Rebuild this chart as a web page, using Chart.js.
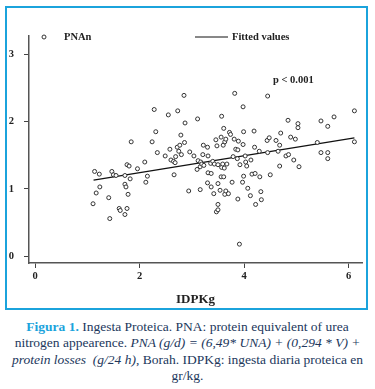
<!DOCTYPE html>
<html>
<head>
<meta charset="utf-8">
<script src="https://cdn.jsdelivr.net/npm/chart.js@4.4.0/dist/chart.umd.min.js"></script>
<style>
  html, body { margin: 0; padding: 0; background: #fff; }
  body { width: 375px; height: 389px; position: relative; overflow: hidden; }
  #frame {
    position: absolute; left: 5px; top: 6px; width: 363px; height: 304px;
    border: 2px solid #1ba3dc; box-sizing: border-box; background: #fff;
  }
  #chart { position: absolute; left: 0; top: 0; }
  #caption {
    position: absolute; left: 0; top: 319px; width: 375px; text-align: center;
    font-family: "Liberation Serif", "DejaVu Serif", serif; font-size: 13.5px;
    line-height: 16.4px; color: #22375c; white-space: nowrap;
  }
  #caption b { color: #1ba3dc; }
</style>
</head>
<body>
<div id="frame"><canvas id="chart" width="359" height="300"></canvas></div>
<div id="caption">
  <b>Figura 1.</b> Ingesta Proteica. PNA: protein equivalent of urea<br>
  nitrogen appearence. <i>PNA (g/d) = (6,49* UNA) + (0,294 * V) +</i><br>
  <i>protein losses&nbsp; (g/24 h)</i>, Borah. IDPKg: ingesta diaria proteica en<br>
  gr/kg.
</div>
<script>
const pnaX = [
  1.11, 1.14, 1.17, 1.23, 1.24, 1.41, 1.43, 1.47, 1.50, 1.55, 1.61, 1.63, 1.72, 1.72, 1.72, 1.74,
  1.76, 1.76, 1.80, 1.78, 1.82, 1.84, 1.96, 2.10, 2.12, 2.15, 2.24, 2.28, 2.31, 2.34, 2.49, 2.55,
  2.58, 2.60, 2.65, 2.66, 2.68, 2.69, 2.72, 2.73, 2.75, 2.77, 2.79, 2.80, 2.85, 2.86, 2.87, 2.94,
  2.96, 3.04, 3.10, 3.11, 3.12, 3.16, 3.16, 3.17, 3.19, 3.21, 3.22, 3.23, 3.30, 3.30, 3.31, 3.31,
  3.36, 3.37, 3.37, 3.40, 3.42, 3.43, 3.46, 3.47, 3.48, 3.50, 3.50, 3.50, 3.50, 3.54, 3.56, 3.56,
  3.57, 3.57, 3.59, 3.60, 3.61, 3.61, 3.62, 3.63, 3.63, 3.65, 3.65, 3.67, 3.70, 3.72, 3.74, 3.77,
  3.79, 3.81, 3.82, 3.84, 3.87, 3.88, 3.88, 3.89, 3.91, 3.92, 3.97, 3.98, 3.98, 3.99, 3.99, 4.02,
  4.03, 4.05, 4.07, 4.12, 4.13, 4.15, 4.19, 4.20, 4.21, 4.22, 4.29, 4.30, 4.32, 4.33, 4.45, 4.44,
  4.45, 4.48, 4.50, 4.61, 4.65, 4.68, 4.68, 4.70, 4.80, 4.84, 4.85, 4.89, 4.95, 4.98, 5.03, 5.03,
  5.05, 5.40, 5.47, 5.47, 5.60, 5.60, 5.60, 5.72, 6.11, 6.11
];
const pnaY = [
  0.78, 1.26, 0.94, 1.22, 1.03, 0.87, 0.56, 1.26, 1.21, 1.20, 0.71, 0.68, 0.62, 1.20, 1.07, 1.03,
  0.71, 1.36, 1.34, 0.92, 1.15, 1.70, 1.30, 1.40, 1.10, 1.19, 1.70, 2.18, 1.85, 1.54, 1.49, 2.10,
  1.59, 1.43, 1.41, 1.21, 1.39, 1.48, 1.62, 2.16, 1.56, 1.65, 1.80, 1.51, 2.39, 1.69, 1.98, 0.97,
  1.55, 1.49, 1.29, 2.04, 1.42, 1.33, 0.99, 1.40, 1.37, 1.51, 1.65, 1.35, 1.62, 1.09, 1.49, 1.24,
  1.38, 1.23, 1.03, 1.41, 0.93, 1.37, 1.73, 0.66, 1.64, 1.36, 1.08, 0.77, 0.69, 0.98, 1.77, 1.18,
  1.32, 2.08, 1.37, 1.65, 1.90, 1.18, 1.31, 1.70, 0.92, 0.97, 1.74, 1.37, 0.93, 1.84, 1.81, 1.10,
  1.48, 1.74, 2.42, 1.59, 1.45, 1.58, 0.85, 1.71, 0.18, 1.36, 1.10, 1.66, 2.22, 1.85, 1.19, 1.49,
  1.40, 1.34, 1.01, 0.90, 1.43, 1.22, 1.86, 1.62, 1.23, 0.77, 1.56, 1.18, 0.96, 0.84, 1.54, 1.72,
  2.38, 1.76, 1.21, 1.72, 1.56, 1.65, 1.34, 1.83, 1.49, 2.02, 1.51, 1.77, 1.43, 1.74, 1.97, 1.91,
  1.33, 1.69, 2.01, 1.54, 1.93, 1.54, 1.45, 2.07, 2.16, 1.70
];

// fitted line end points
const fitX = [1.12, 6.11];
const fitY = [1.13, 1.76];

const xTicks = [0, 2, 4, 6];
const yTicks = [0, 1, 2, 3];

const serif = "'Liberation Serif', 'DejaVu Serif', serif";
const ink = "#333";

// legend + p-value, drawn relative to the plot area
const figureText = {
  id: "figureText",
  afterDraw(chart) {
    const { ctx, chartArea } = chart;
    const top = chartArea.top + 1;
    const left = chartArea.left;
    ctx.save();
    ctx.fillStyle = "#222";
    ctx.font = "bold 10.5px " + serif;
    ctx.textBaseline = "middle";
    ctx.textAlign = "left";

    ctx.beginPath();
    ctx.arc(left + 15, top, 2, 0, Math.PI * 2);
    ctx.strokeStyle = ink;
    ctx.lineWidth = 1;
    ctx.stroke();
    ctx.fillText("PNAn", left + 35, top);

    ctx.beginPath();
    ctx.moveTo(left + 166, top);
    ctx.lineTo(left + 199, top);
    ctx.strokeStyle = "#111";
    ctx.stroke();
    ctx.fillText("Fitted values", left + 203, top);

    ctx.fillText("p < 0.001", left + 244, top + 43);
    ctx.restore();
  }
};

new Chart(document.getElementById("chart"), {
  type: "scatter",
  data: {
    datasets: [
      {
        label: "PNAn",
        data: pnaX.map((x, i) => ({ x: x, y: pnaY[i] })),
        pointRadius: 2,
        pointHoverRadius: 2,
        borderWidth: 1,
        borderColor: ink,
        backgroundColor: "#fff",
      },
      {
        label: "Fitted values",
        type: "line",
        data: fitX.map((x, i) => ({ x: x, y: fitY[i] })),
        borderColor: "#111",
        borderWidth: 1.2,
        pointRadius: 0,
        fill: false,
      },
    ],
  },
  options: {
    responsive: false,
    animation: false,
    devicePixelRatio: 1,
    layout: { padding: { left: 0, top: 28, right: 4, bottom: 0 } },
    plugins: { legend: { display: false }, tooltip: { enabled: false } },
    scales: {
      x: {
        type: "linear",
        min: -0.115,
        max: 6.255,
        afterBuildTicks: (s) => { s.ticks = xTicks.map((v) => ({ value: v })); },
        afterFit: (s) => { s.height = 45; },
        grid: { drawOnChartArea: false, drawTicks: true, tickLength: 5, tickColor: "#444" },
        border: { display: true, color: "#555", width: 1.5 },
        ticks: { padding: 2, color: "#222", font: { family: serif, size: 10.5, weight: "bold" } },
        title: {
          display: true,
          text: "IDPKg",
          color: "#222",
          padding: { top: 0, bottom: 1 },
          font: { family: serif, size: 13, weight: "bold" },
        },
      },
      y: {
        type: "linear",
        min: -0.1,
        max: 3.272,
        afterBuildTicks: (s) => { s.ticks = yTicks.map((v) => ({ value: v })); },
        afterFit: (s) => { s.width = 22; },
        grid: { drawOnChartArea: false, drawTicks: true, tickLength: 5, tickColor: "#444" },
        border: { display: true, color: "#555", width: 1.5 },
        ticks: { padding: 10, color: "#222", font: { family: serif, size: 10.5, weight: "bold" } },
      },
    },
  },
  plugins: [figureText],
});
</script>
</body>
</html>
